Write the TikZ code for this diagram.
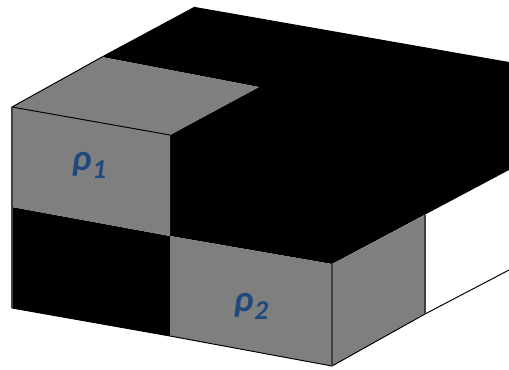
\documentclass[tikz,border=0pt]{standalone}
\usepackage{fontspec}
\setmainfont{Carlito}
\usetikzlibrary{positioning}
\definecolor{slab}{HTML}{7F7F7F}
\definecolor{edge}{HTML}{404040}
\definecolor{labelblue}{HTML}{1F497D}
\newcommand{\rhosub}[1]{\textbf{\textit{ρ\kern0.5pt\raisebox{-0.22em}{\fontsize{15.5}{15.5}\selectfont #1}}}}
\tikzset{
  graycell/.style={fill=slab},
  blackcell/.style={fill=black},
  rimline/.style={black, line width=0.55pt},
  cornerline/.style={edge, line width=0.65pt},
  densitylabel/.style={font=\fontsize{21}{21}\selectfont, text=labelblue, inner sep=0pt}
}
\begin{document}
\begin{tikzpicture}[x=0.02cm, y=-0.02cm]
  \useasboundingbox (0,0) rectangle (509,369);
  % corners of the block
  \coordinate (topleft) at (12,107);
  \coordinate (topmid) at (170,135);
  \coordinate (topback) at (102,57);
  \coordinate (topin) at (259,87);
  \coordinate (apex) at (195,7);
  \coordinate (rightup) at (509,62);
  \coordinate (rightlow) at (509,170);
  \coordinate (corner) at (332,264);
  \coordinate (sideup) at (425,215);
  \coordinate (sidelow) at (425,314);
  \coordinate (cornerlow) at (332,366);
  \coordinate (midfront) at (170,236);
  \coordinate (midlow) at (170,336);
  \coordinate (leftmid) at (12,207);
  \coordinate (leftlow) at (12,308);
  \coordinate (baseend) at (509,270);
  % black faces
  \fill[blackcell] (topback) -- (apex) -- (rightup) -- (rightlow) -- (corner)
    -- (midfront) -- (topmid) -- (topin) -- cycle;
  \fill[blackcell] (leftmid) -- (midfront) -- (midlow) -- (leftlow) -- cycle;
  % gray faces
  \fill[graycell] (topleft) -- (topback) -- (topin) -- (topmid) -- cycle;
  \fill[graycell] (topleft) -- (topmid) -- (midfront) -- (leftmid) -- cycle;
  \fill[graycell] (midfront) -- (corner) -- (cornerlow) -- (midlow) -- cycle;
  \fill[graycell] (corner) -- (sideup) -- (sidelow) -- (cornerlow) -- cycle;
  % edges
  \draw[rimline] (topmid) -- (topleft) -- (topback) -- (apex);
  \draw[rimline] (leftlow) -- (midlow) -- (cornerlow) -- (sidelow) -- (baseend);
  \draw[cornerline] (topleft) -- (leftlow);
  \draw[cornerline] (corner) -- (cornerlow);
  \draw[cornerline] (sideup) -- (sidelow);
  % labels
  \node[densitylabel] (rhoone) at (89,165) {\rhosub{1}};
  \node[densitylabel] (rhotwo) at (251,306) {\rhosub{2}};
\end{tikzpicture}
\end{document}
